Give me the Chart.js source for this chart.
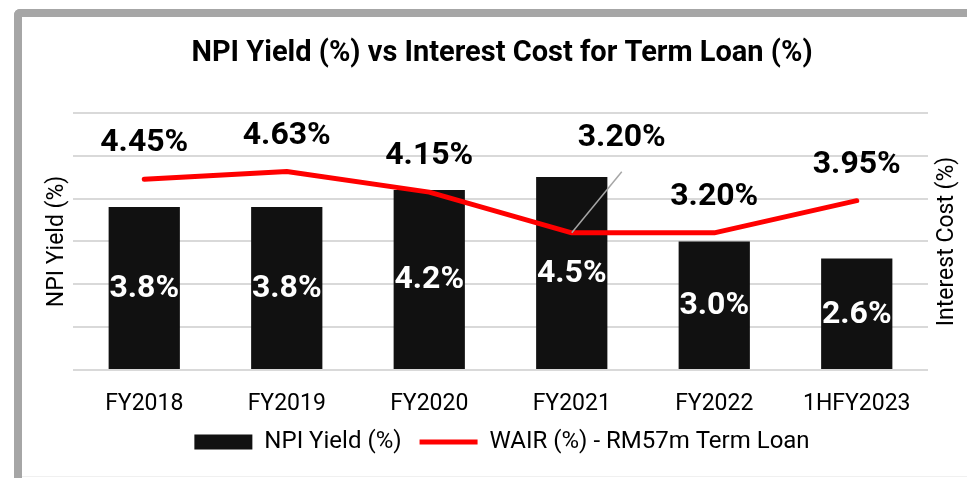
<!DOCTYPE html>
<html><head><meta charset="utf-8">
<script src="https://cdn.jsdelivr.net/npm/chart.js@4.4.0/dist/chart.umd.min.js"></script>
<style>
html,body{margin:0;padding:0;background:#fff;width:967px;height:478px;overflow:hidden}
#frame{position:absolute;left:14px;top:9px;width:1000px;height:500px;border-top:8px solid #a6a6a6;border-left:8px solid #a6a6a6;border-top-left-radius:6px;box-sizing:border-box}
#bottomline{position:absolute;left:22px;top:476px;width:945px;height:1px;background:#f0f0f0}
#wrap{position:absolute;left:0;top:0;width:967px;height:478px}
</style></head><body>
<div id="frame"></div><div id="bottomline"></div>
<div id="wrap"><canvas id="c" width="967" height="478"></canvas></div>
<script>
// ---- data ----
const categories = ['FY2018', 'FY2019', 'FY2020', 'FY2021', 'FY2022', '1HFY2023'];
const npiYield = [3.8, 3.8, 4.2, 4.5, 3.0, 2.6];
const wair = [4.45, 4.63, 4.15, 3.20, 3.20, 3.95];
const seriesNames = ['NPI Yield (%)', 'WAIR (%) - RM57m Term Loan'];
const chartTitle = 'NPI Yield (%) vs Interest Cost for Term Loan (%)';
const leftAxisTitle = 'NPI Yield (%)';
const rightAxisTitle = 'Interest Cost (%)';

Chart.defaults.font.family = 'Roboto, "Liberation Sans", sans-serif';
Chart.defaults.color = '#000';

const valueLabels = {
  id: 'valueLabels',
  afterDatasetsDraw(chart, args, opts) {
    const ctx = chart.ctx;
    ctx.save();
    ctx.textAlign = 'center';
    ctx.textBaseline = 'middle';
    ctx.font = 'bold 32px Roboto, "Liberation Sans", sans-serif';
    const bars = chart.getDatasetMeta(0).data;
    bars.forEach((el, i) => {
      const v = chart.data.datasets[0].data[i];
      ctx.fillStyle = '#ffffff';
      ctx.fillText(v.toFixed(1) + '%', el.x, (el.y + el.base) / 2 + 1);
    });
    const pts = chart.getDatasetMeta(1).data;
    pts.forEach((el, i) => {
      const v = chart.data.datasets[1].data[i];
      const off = (opts.special && opts.special[i]) || { dx: 0, dy: opts.dy };
      if (off.leader) {
        ctx.strokeStyle = '#a6a6a6';
        ctx.lineWidth = 1.5;
        ctx.beginPath();
        ctx.moveTo(el.x, el.y);
        ctx.lineTo(el.x + off.leader[0], el.y + off.leader[1]);
        ctx.stroke();
      }
      ctx.fillStyle = '#000';
      ctx.fillText(v.toFixed(2) + '%', el.x + off.dx, el.y + off.dy);
    });
    ctx.restore();
  }
};

const rightTitle = {
  id: 'rightTitle',
  afterDraw(chart) {
    const s = chart.scales.y1;
    const ctx = chart.ctx;
    ctx.save();
    ctx.font = '23px Roboto, "Liberation Sans", sans-serif';
    ctx.fillStyle = '#000';
    ctx.textAlign = 'center';
    ctx.textBaseline = 'middle';
    ctx.translate(s.right - 4 - 23 * 1.2 / 2, (s.top + s.bottom) / 2);
    ctx.rotate(-Math.PI / 2);
    ctx.fillText(rightAxisTitle, 0, 0);
    ctx.restore();
  }
};

new Chart(document.getElementById('c'), {
  data: {
    labels: categories,
    datasets: [
      {
        type: 'bar',
        label: seriesNames[0],
        data: npiYield,
        backgroundColor: '#111111',
        borderWidth: 0,
        barPercentage: 0.5,
        categoryPercentage: 1.0,
        yAxisID: 'y',
        pointStyle: 'rect',
        order: 1
      },
      {
        type: 'line',
        label: seriesNames[1],
        data: wair,
        borderColor: '#ff0000',
        backgroundColor: '#ff0000',
        borderWidth: 5,
        pointRadius: 0,
        pointHoverRadius: 0,
        tension: 0,
        borderJoinStyle: 'round',
        borderCapStyle: 'round',
        yAxisID: 'y1',
        pointStyle: 'line',
        order: 0
      }
    ]
  },
  options: {
    responsive: false,
    animation: false,
    devicePixelRatio: 1,
    layout: { padding: { top: 20, left: 39.4, right: 2.4, bottom: 14 } },
    scales: {
      x: {
        grid: { display: false, drawTicks: false },
        border: { display: false },
        ticks: { font: { size: 23, lineHeight: 0.8 }, color: '#000', padding: 25, maxRotation: 0, autoSkip: false },
        afterFit: (s) => { s.height = 42; }
      },
      y: {
        position: 'left',
        min: 0, max: 6,
        ticks: { display: false, stepSize: 1 },
        grid: { color: '#d9d9d9', lineWidth: 2, drawTicks: false },
        border: { display: false },
        title: { display: true, text: leftAxisTitle, font: { size: 23 }, color: '#000', padding: { top: 4, bottom: 2 } }
      },
      y1: {
        position: 'right',
        min: 0, max: 6,
        ticks: { display: false, stepSize: 1 },
        grid: { display: false, drawTicks: false },
        border: { display: false },
        title: { display: true, text: rightAxisTitle, font: { size: 23 }, color: 'rgba(0,0,0,0)', padding: { top: 4, bottom: 5 } }
      }
    },
    plugins: {
      title: {
        display: true,
        text: chartTitle,
        font: { size: 29, weight: 'bold' },
        color: '#000',
        padding: { top: 16, bottom: 42 }
      },
      legend: {
        position: 'bottom',
        labels: {
          usePointStyle: true,
          pointStyleWidth: 58,
          boxHeight: 15,
          padding: 18,
          font: { size: 24 },
          color: '#000',
          sort: (a, b) => a.datasetIndex - b.datasetIndex
        }
      },
      tooltip: { enabled: false },
      valueLabels: {
        dy: -36,
        special: { 3: { dx: 50, dy: -95, leader: [50, -61] } }
      }
    }
  },
  plugins: [valueLabels, rightTitle]
});
</script>
</body></html>
